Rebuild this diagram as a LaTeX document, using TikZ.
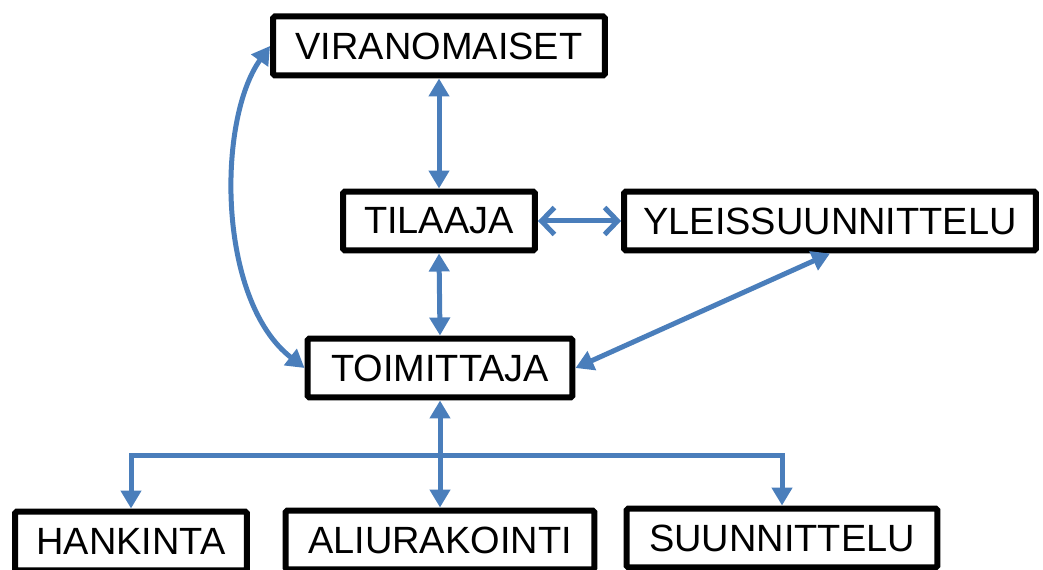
\documentclass[tikz,border=0pt]{standalone}
\usepackage{fontspec}
\setmainfont{Liberation Sans}
\usetikzlibrary{positioning, arrows.meta, calc}
\definecolor{linkBlue}{HTML}{4A7EBB}
\tikzset{
  every node/.style={font=\fontsize{21.6}{26}\selectfont},
  box/.style={draw, line width=0.12cm, rounded corners=1pt, minimum height=1.18cm,
              inner sep=0pt, align=center},
  arr/.style={{Triangle[length=3.6mm, width=4mm]}-{Triangle[length=3.6mm, width=4mm]},
              line width=0.1cm, linkBlue},
  arrd/.style={-{Triangle[length=3.6mm, width=4mm]}, line width=0.1cm, linkBlue},
  arrb/.style={{Straight Barb[length=2.6mm, width=5.4mm]}-{Straight Barb[length=2.6mm, width=5.4mm]},
               line width=0.1cm, linkBlue},
}

\begin{document}
\begin{tikzpicture}[x=0.02cm, y=-0.02cm]
  \useasboundingbox (0,0) rectangle (1043,570);
  % top of the chain
  \node[box, minimum width=6.64cm] (vir) at (439,46) {VIRANOMAISET};
  \node[box, minimum width=3.84cm] (til) at (439,221) {TILAAJA};
  \node[box, minimum width=8.24cm] (yle) at (830,221) {YLEISSUUNNITTELU};
  \node[box, minimum width=5.30cm] (toi) at (440,368) {TOIMITTAJA};
  % the three parts under the supplier
  \node[box, minimum width=4.64cm] (han) at (131,541) {HANKINTA};
  \node[box, minimum width=6.18cm] (ali) at (440,540) {ALIURAKOINTI};
  \node[box, minimum width=6.22cm] (suu) at (782,538) {SUUNNITTELU};
  % links
  \draw[arr] (vir.south) -- (til.north);
  \draw[arrb] (til.east) -- (yle.west);
  \draw[arr] (til.south) -- (toi.north);
  \draw[arr] (yle.south) -- (toi.east);
  \draw[arr] (vir.west) .. controls (217,120) and (217,300) .. (toi.west);
  \coordinate (busy) at (0,455);
  \coordinate (bus) at (toi.south |- busy);
  \draw[arr] (toi.south) -- (ali.north);
  \draw[arrd] (bus) -| (han.north);
  \draw[arrd] (bus) -| (suu.north);
\end{tikzpicture}
\end{document}
